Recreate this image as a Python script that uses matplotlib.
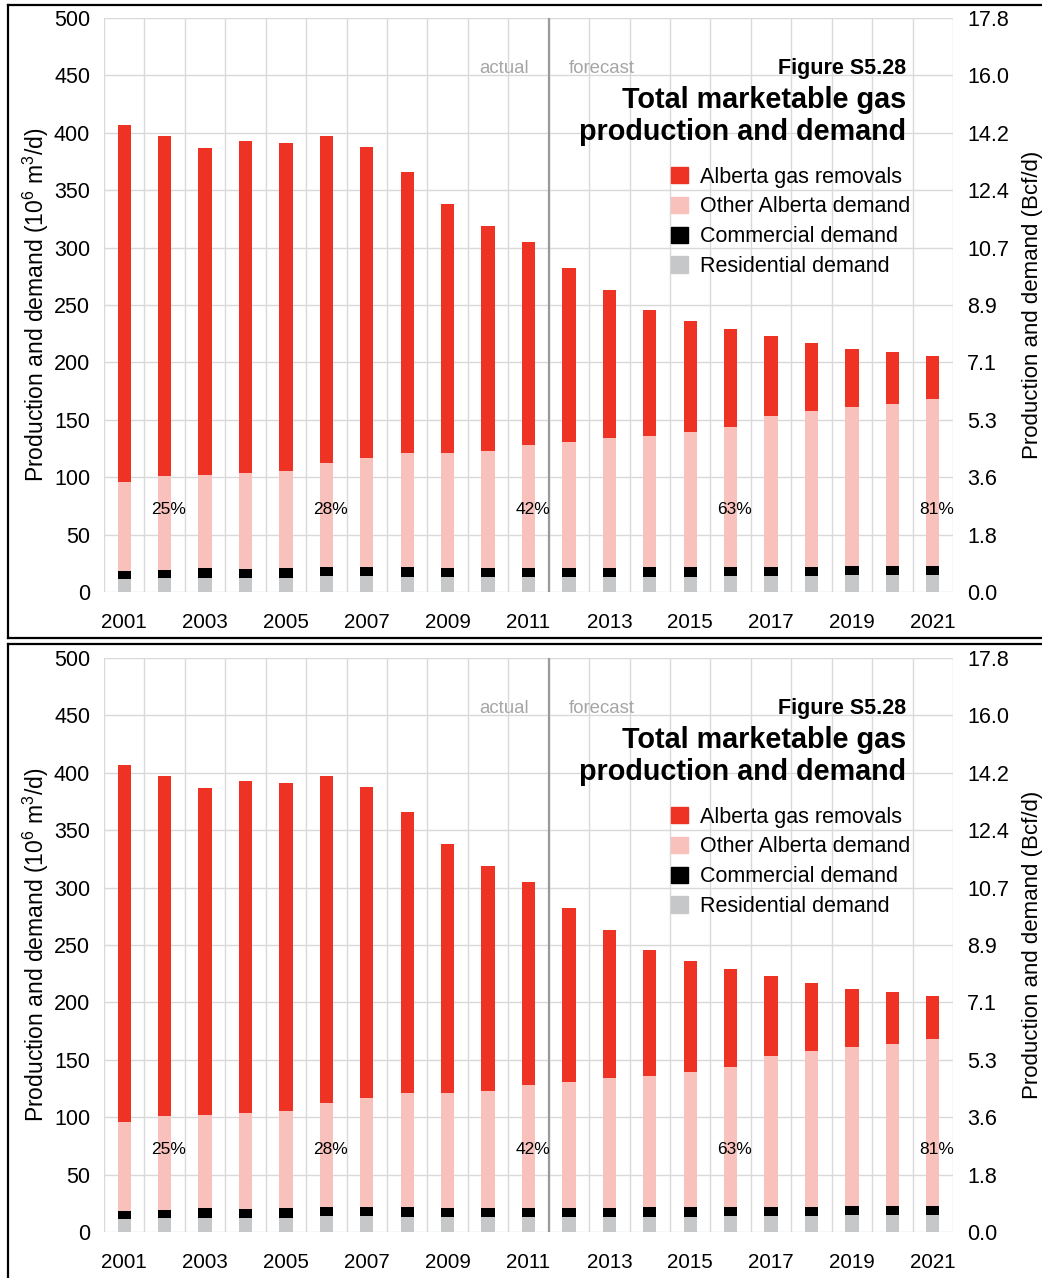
import numpy as np
import matplotlib
matplotlib.use("Agg")
import matplotlib.pyplot as plt
from matplotlib.patches import Patch
from matplotlib.lines import Line2D

plt.rcParams['font.family'] = ['Liberation Sans', 'DejaVu Sans']
plt.rcParams['mathtext.fontset'] = 'custom'
plt.rcParams['mathtext.rm'] = 'Liberation Sans'
plt.rcParams['mathtext.it'] = 'Liberation Sans:italic'
plt.rcParams['mathtext.bf'] = 'Liberation Sans:bold'

# data (10^6 m3/d)
years = list(range(2001, 2022))
residential = [11, 12, 12, 12, 12, 14, 14, 13, 13, 13, 13, 13, 13, 13.5, 13.5, 14, 14, 14, 14.5, 14.5, 15]
commercial = [7, 7, 9, 8, 9, 8, 8, 8.5, 8, 7.5, 7.5, 8, 8, 8, 8, 7.5, 8, 8, 8, 8, 8]
other_alberta = [78, 82, 81, 84, 84, 90, 95, 99.5, 100, 102.5, 107.5, 110, 113, 114.5, 117.5,
                 122.5, 131, 136, 138.5, 141.5, 145]
removals = [311, 296, 285, 289, 286, 285, 271, 245, 217, 196, 177, 151, 129, 110, 97,
            85, 70, 59, 51, 45, 38]

# share of Alberta demand, labelled on some bars
pct_years = [2002, 2006, 2011, 2016, 2021]
pct_labels = ['25%', '28%', '42%', '63%', '81%']

left_ticks = [0, 50, 100, 150, 200, 250, 300, 350, 400, 450, 500]
right_labels = ['0.0', '1.8', '3.6', '5.3', '7.1', '8.9', '10.7', '12.4', '14.2', '16.0', '17.8']

c_rem = '#ee3325'
c_oth = '#f8c1bc'
c_com = '#000000'
c_res = '#c6c7c9'

W, H = 1042, 1278
fig = plt.figure(figsize=(W / 100, H / 100), dpi=100)


def draw_panel(y0):
    # y0 = pixel offset of the panel
    ax = fig.add_axes([104 / W, 1 - (592 + y0) / H, 849 / W, 574 / H])
    x = np.arange(len(years))
    bw = 0.33
    b1 = np.array(residential)
    b2 = b1 + np.array(commercial)
    b3 = b2 + np.array(other_alberta)
    ax.bar(x, residential, bw, color=c_res, zorder=3)
    ax.bar(x, commercial, bw, bottom=b1, color=c_com, zorder=3)
    ax.bar(x, other_alberta, bw, bottom=b2, color=c_oth, zorder=3)
    ax.bar(x, removals, bw, bottom=b3, color=c_rem, zorder=3)

    ax.set_xlim(-0.5, len(years) - 0.5)
    ax.set_ylim(0, 500)
    ax.set_xticks(x[::2])
    ax.set_xticklabels([str(y) for y in years[::2]], fontsize=14.8)
    ax.set_xticks(np.arange(-0.5, len(years)), minor=True)
    ax.set_yticks(left_ticks)
    ax.tick_params(axis='y', labelsize=15.5, length=0, pad=10)
    ax.tick_params(axis='x', which='both', length=0, pad=15)
    ax.grid(axis='x', which='minor', color='#d9d9d9', lw=1)
    ax.grid(axis='y', which='major', color='#d9d9d9', lw=1)
    ax.set_axisbelow(True)
    for s in ax.spines.values():
        s.set_visible(False)
    ax.axvline(10.5, color='#9a9a9a', lw=1.6, zorder=2)

    ax.set_ylabel('Production and demand (10$^6$ m$^3$/d)', fontsize=16.5)
    ax.yaxis.set_label_coords(-0.0624, 0.5)

    for yr, lab in zip(pct_years, pct_labels):
        ax.text(years.index(yr) + 0.1, 72, lab, ha='center', va='center', fontsize=12.5, zorder=4)

    ax.text(10.0, 452, 'actual', ha='right', va='baseline', fontsize=13.4, color='#a6a6a6')
    ax.text(11.0, 452, 'forecast', ha='left', va='baseline', fontsize=13.4, color='#a6a6a6')
    ax.text(19.35, 451, 'Figure S5.28', ha='right', va='baseline', fontsize=15.5, fontweight='bold')
    ax.text(19.35, 421.5, 'Total marketable gas', ha='right', va='baseline', fontsize=20.7, fontweight='bold')
    ax.text(19.35, 393.5, 'production and demand', ha='right', va='baseline', fontsize=20.7, fontweight='bold')

    handles = [Patch(color=c_rem), Patch(color=c_oth), Patch(color=c_com), Patch(color=c_res)]
    labels = ['Alberta gas removals', 'Other Alberta demand', 'Commercial demand', 'Residential demand']
    ax.legend(handles, labels, loc='upper left', bbox_to_anchor=(0.668, 0.741), frameon=False,
              fontsize=15.5, borderpad=0, borderaxespad=0, handlelength=0.79, handleheight=0.79,
              handletextpad=0.56, labelspacing=0.41)

    ax2 = ax.twinx()
    ax2.set_ylim(0, 500)
    ax2.set_yticks(left_ticks)
    ax2.set_yticklabels(right_labels)
    ax2.tick_params(axis='y', labelsize=15.5, length=0, pad=10)
    for s in ax2.spines.values():
        s.set_visible(False)
    ax2.set_ylabel('Production and demand (Bcf/d)', fontsize=16)
    ax2.yaxis.set_label_coords(1.0813, 0.5)


draw_panel(0)
draw_panel(640)


def px_line(xs, ys):
    fig.add_artist(Line2D([v / W for v in xs], [1 - v / H for v in ys], color='black', lw=1.6,
                          transform=fig.transFigure))


# panel frames
px_line([8, W], [5, 5])
px_line([8, 8], [5, 638])
px_line([8, W], [638, 638])
px_line([8, W], [644, 644])
px_line([8, 8], [644, H])

fig.savefig('out.png', dpi=100)
